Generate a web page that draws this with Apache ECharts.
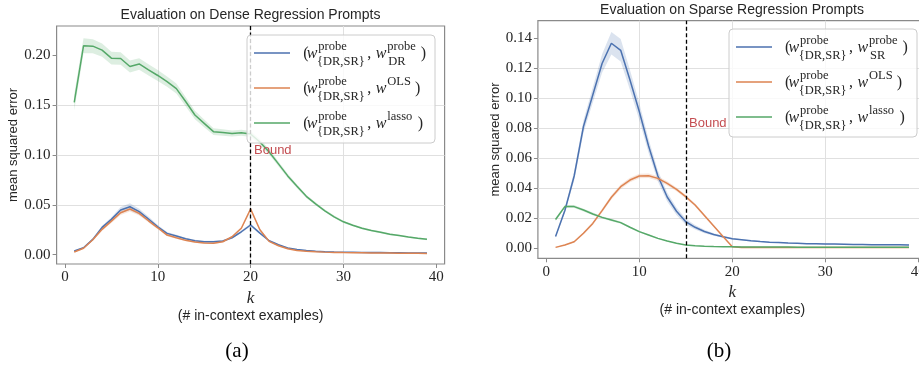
<!DOCTYPE html>
<html><head><meta charset="utf-8">
<script src="https://cdn.jsdelivr.net/npm/echarts@6/dist/echarts.min.js"></script>
<style>html,body{margin:0;padding:0;background:#fff}#c{width:919px;height:366px}</style>
</head><body><div id="c"></div>
<script>
// ---------- data ----------
const kVals = [1,2,3,4,5,6,7,8,9,10,11,12,13,14,15,16,17,18,19,20,21,22,23,24,25,26,27,28,29,30,31,32,33,34,35,36,37,38,39];
const xTicks = [0,10,20,30,40];
const yTicksDense = [0,0.05,0.10,0.15,0.20];
const yTicksSparse = [0,0.02,0.04,0.06,0.08,0.10,0.12,0.14];
const boundDense = 20;
const boundSparse = 15;

// (a) dense regression prompts
const denseProbe = [0.0037,0.0070,0.0154,0.0274,0.0354,0.0448,0.0481,0.0431,0.0358,0.0280,
  0.0214,0.0187,0.0160,0.0140,0.0130,0.0130,0.0137,0.0170,0.0230,0.0298,
  0.0217,0.0140,0.0100,0.0068,0.0052,0.0042,0.0035,0.0030,0.0027,0.0025,
  0.0024,0.0023,0.0022,0.0021,0.0020,0.0019,0.0018,0.0018,0.0017];
const denseOLS = [0.0027,0.0065,0.0150,0.0254,0.0337,0.0420,0.0458,0.0415,0.0340,0.0270,
  0.0197,0.0170,0.0144,0.0127,0.0117,0.0114,0.0130,0.0180,0.0265,0.0458,
  0.0250,0.0134,0.0090,0.0060,0.0043,0.0035,0.0030,0.0026,0.0023,0.0021,
  0.0020,0.0019,0.0018,0.0017,0.0016,0.0015,0.0015,0.0014,0.0013];
const denseLasso = [0.1527,0.2094,0.2090,0.2050,0.1970,0.1966,0.1886,0.1912,0.1853,0.1796,
  0.1734,0.1665,0.1535,0.1400,0.1316,0.1233,0.1225,0.1215,0.1223,0.1210,
  0.1130,0.1030,0.0910,0.0790,0.0685,0.0585,0.0510,0.0440,0.0380,0.0330,
  0.0295,0.0265,0.0243,0.0225,0.0205,0.0192,0.0178,0.0165,0.0154];
// half-widths of the shaded bands
const denseProbeBand = [0.0005,0.0007,0.0010,0.0016,0.0022,0.0030,0.0035,0.0030,0.0024,0.0018,
  0.0014,0.0012,0.0010,0.0009,0.0009,0.0009,0.0009,0.0010,0.0012,0.0015,
  0.0011,0.0008,0.0006,0.0005,0.0004,0.0004,0.0004,0.0003,0.0003,0.0003,
  0.0003,0.0003,0.0003,0.0003,0.0003,0.0003,0.0003,0.0003,0.0003];
const denseOLSBand = [0.0004,0.0006,0.0009,0.0014,0.0018,0.0022,0.0025,0.0022,0.0018,0.0014,
  0.0011,0.0009,0.0008,0.0007,0.0007,0.0007,0.0008,0.0010,0.0014,0.0020,
  0.0012,0.0008,0.0006,0.0005,0.0004,0.0003,0.0003,0.0003,0.0003,0.0003,
  0.0003,0.0003,0.0003,0.0003,0.0003,0.0003,0.0003,0.0003,0.0003];
const denseLassoBand = [0.0080,0.0075,0.0070,0.0066,0.0064,0.0062,0.0060,0.0058,0.0056,0.0054,
  0.0052,0.0050,0.0046,0.0042,0.0038,0.0034,0.0032,0.0031,0.0030,0.0030,
  0.0028,0.0026,0.0024,0.0021,0.0019,0.0017,0.0015,0.0013,0.0012,0.0011,
  0.0010,0.0010,0.0009,0.0009,0.0009,0.0008,0.0008,0.0008,0.0008];

// (b) sparse regression prompts
const sparseProbe = [0.0076,0.0250,0.0480,0.0810,0.1020,0.1230,0.1365,0.1318,0.1120,0.0910,
  0.0680,0.0480,0.0340,0.0245,0.0175,0.0138,0.0110,0.0090,0.0075,0.0062,
  0.0055,0.0048,0.0043,0.0039,0.0036,0.0033,0.0031,0.0029,0.0028,0.0027,
  0.0026,0.0025,0.0024,0.0023,0.0022,0.0022,0.0021,0.0021,0.0020];
const sparseOLS = [0.0004,0.0020,0.0042,0.0098,0.0164,0.0249,0.0338,0.0409,0.0453,0.0480,
  0.0482,0.0464,0.0431,0.0391,0.0342,0.0287,0.0217,0.0147,0.0077,0.0008,
  0.0004,0.0004,0.0004,0.0004,0.0004,0.0004,0.0004,0.0004,0.0004,0.0004,
  0.0004,0.0004,0.0004,0.0004,0.0004,0.0004,0.0004,0.0004,0.0004];
const sparseLasso = [0.0190,0.0276,0.0276,0.0253,0.0227,0.0204,0.0187,0.0169,0.0138,0.0109,
  0.0087,0.0064,0.0047,0.0031,0.0020,0.0015,0.0012,0.0010,0.0009,0.0008,
  0.0007,0.0007,0.0006,0.0006,0.0006,0.0006,0.0005,0.0005,0.0005,0.0005,
  0.0005,0.0005,0.0005,0.0005,0.0005,0.0005,0.0005,0.0005,0.0005];
const sparseProbeBand = [0.0008,0.0015,0.0030,0.0042,0.0052,0.0062,0.0075,0.0075,0.0066,0.0056,
  0.0046,0.0036,0.0030,0.0025,0.0020,0.0015,0.0011,0.0008,0.0006,0.0005,
  0.0004,0.0004,0.0003,0.0003,0.0003,0.0003,0.0003,0.0003,0.0003,0.0003,
  0.0003,0.0003,0.0003,0.0003,0.0003,0.0003,0.0003,0.0003,0.0003];
const sparseOLSBand = [0.0002,0.0003,0.0005,0.0008,0.0010,0.0012,0.0014,0.0015,0.0015,0.0015,
  0.0015,0.0015,0.0014,0.0013,0.0012,0.0010,0.0008,0.0006,0.0004,0.0002,
  0.0001,0.0001,0.0001,0.0001,0.0001,0.0001,0.0001,0.0001,0.0001,0.0001,
  0.0001,0.0001,0.0001,0.0001,0.0001,0.0001,0.0001,0.0001,0.0001];
const sparseLassoBand = [0.0010,0.0010,0.0010,0.0009,0.0009,0.0008,0.0008,0.0007,0.0006,0.0005,
  0.0005,0.0004,0.0003,0.0003,0.0002,0.0002,0.0001,0.0001,0.0001,0.0001,
  0.0001,0.0001,0.0001,0.0001,0.0001,0.0001,0.0001,0.0001,0.0001,0.0001,
  0.0001,0.0001,0.0001,0.0001,0.0001,0.0001,0.0001,0.0001,0.0001];

const names = {
  dProbe: '(w probe {DR,SR}, w probe DR)',
  dOLS: '(w probe {DR,SR}, w OLS) dense',
  dLasso: '(w probe {DR,SR}, w lasso) dense',
  sProbe: '(w probe {DR,SR}, w probe SR)',
  sOLS: '(w probe {DR,SR}, w OLS) sparse',
  sLasso: '(w probe {DR,SR}, w lasso) sparse'
};

// ---------- styling ----------
const BLUE = '#4c72b0', ORANGE = '#dd8452', GREEN = '#55a868';
const SERIF = '"Liberation Serif", "DejaVu Serif", serif';
const SANS = '"Liberation Sans", Arial, sans-serif';
const TXT = '#262626';
// legend icon: a 1.5px line centred in a 36x30 box (tiny corner marks fix the box)
const LEGEND_ICON = 'path://M0,0h0.01v0.01h-0.01z M0,14.25h36v1.5h-36z M35.99,29.99h0.01v0.01h-0.01z';

function lineSeries(name, g, vals, color, bound) {
  const s = {
    type: 'line', name, xAxisIndex: g, yAxisIndex: g,
    data: kVals.map((k, i) => [k, vals[i]]),
    symbol: 'none', showSymbol: false, z: 3, clip: true,
    lineStyle: { color, width: 1.5 }, itemStyle: { color },
    emphasis: { disabled: true }
  };
  if (bound !== undefined) {
    s.markLine = {
      silent: true, symbol: ['none', 'none'], animation: false,
      label: { show: false },
      lineStyle: { color: '#000', type: [4, 2.5], width: 1.3 },
      emphasis: { disabled: true },
      data: [{ xAxis: bound }]
    };
  }
  return s;
}
function bandSeries(name, g, vals, band, fill) {
  return {
    type: 'custom', name, xAxisIndex: g, yAxisIndex: g, silent: true, z: 2, clip: true,
    data: kVals.map((k, i) => [k, vals[i] - band[i], vals[i] + band[i]]),
    encode: { x: 0, y: [1, 2] },
    renderItem: function (params, api) {
      if (params.dataIndex !== 0) return null;
      const pts = [];
      for (let i = 0; i < kVals.length; i++) pts.push(api.coord([kVals[i], vals[i] + band[i]]));
      for (let i = kVals.length - 1; i >= 0; i--) pts.push(api.coord([kVals[i], vals[i] - band[i]]));
      return { type: 'polygon', shape: { points: pts }, style: { fill } };
    }
  };
}
function xAxis(g) {
  return {
    type: 'value', gridIndex: g, min: -0.9, max: 40.9, splitNumber: 4,
    axisLine: { show: false, onZero: false },
    axisTick: { show: true, length: 4, lineStyle: { color: '#8a8a8a', width: 1 }, customValues: xTicks },
    axisLabel: { customValues: xTicks, margin: 6, fontFamily: SERIF, fontSize: 15, color: TXT,
      formatter: v => String(Math.round(v)) },
    splitLine: { show: true, showMinLine: false, showMaxLine: false, lineStyle: { color: '#e0e0e0', width: 1 } },
    name: '{k|k}\n{e|(# in-context examples)}', nameLocation: 'middle', nameGap: 22,
    nameTextStyle: { rich: {
      k: { fontFamily: SERIF, fontStyle: 'italic', fontSize: 17, lineHeight: 18, color: TXT },
      e: { fontFamily: SANS, fontSize: 14, lineHeight: 17, color: TXT } } }
  };
}
function yAxis(g, min, max, split, ticks, gap) {
  return {
    type: 'value', gridIndex: g, min, max, splitNumber: split,
    axisLine: { show: false, onZero: false },
    axisTick: { show: true, length: 4, lineStyle: { color: '#8a8a8a', width: 1 }, customValues: ticks },
    axisLabel: { customValues: ticks, margin: 6, fontFamily: SERIF, fontSize: 15, color: TXT,
      formatter: v => v.toFixed(2) },
    splitLine: { show: true, showMinLine: false, showMaxLine: false, lineStyle: { color: '#e0e0e0', width: 1 } },
    name: 'mean squared error', nameLocation: 'middle', nameGap: gap, nameRotate: 90,
    nameTextStyle: { fontFamily: SANS, fontSize: 13, color: TXT }
  };
}
function legend(data, left, top) {
  return {
    data, left, top, orient: 'vertical', selectedMode: false, z: 10,
    icon: LEGEND_ICON, itemWidth: 36, itemHeight: 30, itemGap: 5, padding: [3, 145, 5, 7],
    itemStyle: { borderWidth: 0 },
    backgroundColor: 'rgba(255,255,255,0.8)', borderColor: '#cccccc', borderWidth: 1, borderRadius: 4,
    formatter: () => '',
    textStyle: { fontSize: 10 }
  };
}
function mathLabel(x0, c, sup2, sub2, closeDx) {
  const t = (dx, dy, text, size, italic) => ({
    type: 'text', x: x0 + dx, y: c + dy, z: 100, silent: true,
    style: { text, fontFamily: SERIF, fontSize: size, fontStyle: italic ? 'italic' : 'normal',
      fill: TXT, align: 'left', verticalAlign: 'middle' }
  });
  const els = [t(0, 0.6, '(', 16), t(3.4, 0.6, 'w', 16, true), t(15, -6.7, 'probe', 12.5),
    t(13.7, 8.3, '{DR,SR}', 12.5), t(64, 0.6, ',', 16), t(72.5, 0.6, 'w', 16, true), t(84, -6.7, sup2, 12.5)];
  if (sub2) els.push(t(85, 8.3, sub2, 12.5));
  els.push(t(closeDx, 0.6, ')', 16));
  return els;
}

const chart = echarts.init(document.getElementById('c'), null, { renderer: 'canvas', width: 919, height: 366 });
const graphics = [].concat(
  mathLabel(303.3, 53, 'probe', 'DR', 117.5),
  mathLabel(303.3, 88, 'OLS', null, 111.7),
  mathLabel(303.3, 123, 'lasso', null, 114.4),
  mathLabel(785, 47, 'probe', 'SR', 117.5),
  mathLabel(785, 82, 'OLS', null, 111.7),
  mathLabel(785, 117, 'lasso', null, 114.4),
  [
    { type: 'text', x: 254, y: 150.5, z: 100, silent: true, style: { text: 'Bound', fontFamily: SANS, fontSize: 13, fill: '#c44e52', verticalAlign: 'middle' } },
    { type: 'text', x: 689, y: 123, z: 100, silent: true, style: { text: 'Bound', fontFamily: SANS, fontSize: 13, fill: '#c44e52', verticalAlign: 'middle' } },
    { type: 'text', x: 237, y: 351, z: 100, silent: true, style: { text: '(a)', fontFamily: SERIF, fontSize: 21, fill: '#000', align: 'center', verticalAlign: 'middle' } },
    { type: 'text', x: 719, y: 351, z: 100, silent: true, style: { text: '(b)', fontFamily: SERIF, fontSize: 21, fill: '#000', align: 'center', verticalAlign: 'middle' } }
  ]
);

chart.setOption({
  animation: false,
  backgroundColor: '#ffffff',
  title: [
    { text: 'Evaluation on Dense Regression Prompts', left: 250.5, top: 8, textAlign: 'center', padding: 0,
      textStyle: { fontFamily: SANS, fontSize: 14, fontWeight: 'normal', color: TXT } },
    { text: 'Evaluation on Sparse Regression Prompts', left: 732, top: 3, textAlign: 'center', padding: 0,
      textStyle: { fontFamily: SANS, fontSize: 14, fontWeight: 'normal', color: TXT } }
  ],
  grid: [
    { left: 56.6, top: 26, width: 388, height: 238, show: true, borderColor: '#8a8a8a', borderWidth: 1.2,
      backgroundColor: 'transparent', containLabel: false, outerBoundsMode: 'none' },
    { left: 537.9, top: 20.7, width: 388.8, height: 237.6, show: true, borderColor: '#8a8a8a', borderWidth: 1.2,
      backgroundColor: 'transparent', containLabel: false, outerBoundsMode: 'none' }
  ],
  xAxis: [xAxis(0), xAxis(1)],
  yAxis: [yAxis(0, -0.0093, 0.2292, 5, yTicksDense, 36.5), yAxis(1, -0.00687, 0.15153, 8, yTicksSparse, 35)],
  legend: [
    legend([names.dProbe, names.dOLS, names.dLasso], 247, 35),
    legend([names.sProbe, names.sOLS, names.sLasso], 729, 29)
  ],
  series: [
    bandSeries('band dense probe', 0, denseProbe, denseProbeBand, 'rgba(76,114,176,0.2)'),
    bandSeries('band dense OLS', 0, denseOLS, denseOLSBand, 'rgba(221,132,82,0.2)'),
    bandSeries('band dense lasso', 0, denseLasso, denseLassoBand, 'rgba(85,168,104,0.2)'),
    lineSeries(names.dProbe, 0, denseProbe, BLUE),
    lineSeries(names.dOLS, 0, denseOLS, ORANGE),
    lineSeries(names.dLasso, 0, denseLasso, GREEN, boundDense),
    bandSeries('band sparse probe', 1, sparseProbe, sparseProbeBand, 'rgba(76,114,176,0.2)'),
    bandSeries('band sparse OLS', 1, sparseOLS, sparseOLSBand, 'rgba(221,132,82,0.2)'),
    bandSeries('band sparse lasso', 1, sparseLasso, sparseLassoBand, 'rgba(85,168,104,0.2)'),
    lineSeries(names.sProbe, 1, sparseProbe, BLUE),
    lineSeries(names.sOLS, 1, sparseOLS, ORANGE),
    lineSeries(names.sLasso, 1, sparseLasso, GREEN, boundSparse)
  ],
  graphic: { elements: graphics }
});
</script></body></html>
